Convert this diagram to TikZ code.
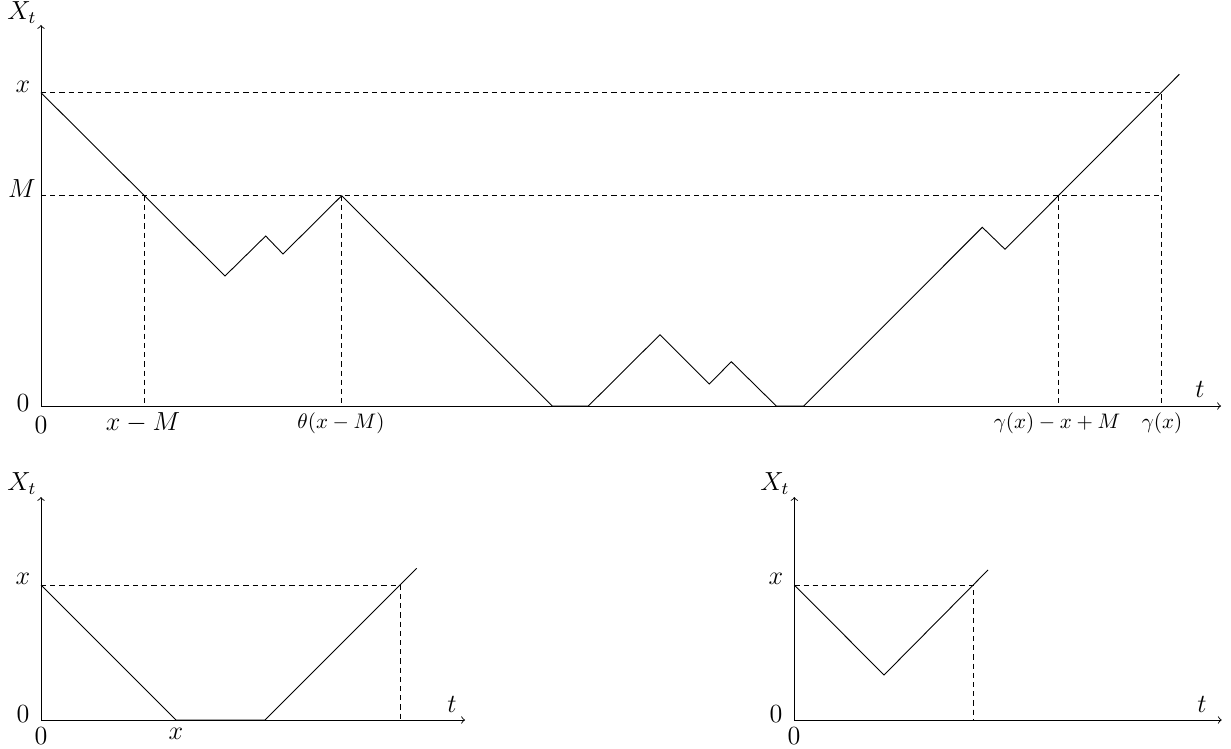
\documentclass[tikz,border=0pt]{standalone}
\usepackage{amsmath}
\usepackage{tikz}
\usetikzlibrary{positioning,calc}
\tikzset{
  >=to,
  % --- lines
  axis/.style  = {->, draw=black, line width=0.45pt},
  walk/.style  = {draw=black, line width=0.45pt, line join=miter},
  guide/.style = {draw=black, line width=0.45pt, dash pattern=on 2.6pt off 2pt},
  % --- labels
  lbl/.style   = {font=\large, scale=1.09, inner sep=0pt},
  tiny/.style  = {font=\normalsize, scale=1.05, inner sep=0pt},
}
\begin{document}
\begin{tikzpicture}[x=0.5pt,y=-0.5pt]
  \useasboundingbox (0,0) rectangle (1231,749);
  % --- top: the long path
  \coordinate (o1) at (41,406);
  \coordinate (x1) at (41,92.7);
  \coordinate (m1) at (41,195.7);
  \draw[axis] (o1) -- (1221,406);
  \draw[axis] (o1) -- (41,25);
  \draw[guide] (x1) -- (1161.7,92.7) -- (1161.7,406);
  \draw[guide] (m1) -- (1161.7,195.7);
  \foreach \t in {144.3,341.7,1058.7}
    \draw[guide] (\t,195.7) -- (\t,406);
  \draw[walk] (x1) -- (225,276) -- (265.7,236) -- (283,254) -- (341.7,195.7)
    -- (552.3,406) -- (588.3,406) -- (660,334.7) -- (709.3,384) -- (731.3,361.7)
    -- (776.3,406) -- (803.7,406) -- (982.3,227.3) -- (1005,249.3) -- (1179.3,74.3);
  \node[lbl] (xt1) at (22,13)  {$X_t$};
  \node[lbl] (lx1) at (23,87)  {$x$};
  \node[lbl] (lm1) at (22,189) {$M$};
  \node[lbl] (lz1) at (23,403) {$0$};
  \node[lbl] (t1)  at (1200,389) {$t$};
  \node[lbl] (b0)  at (41,425)  {$0$};
  \node[lbl] (bxm) at (143,423) {$x-M$};
  \node[tiny] (bth) at (341,423) {$\theta(x-M)$};
  \node[tiny] (bgm) at (1057,423) {$\gamma(x)-x+M$};
  \node[tiny] (bga) at (1162,423) {$\gamma(x)$};
  % --- bottom left
  \coordinate (o2) at (41,720);
  \coordinate (x2) at (41,585);
  \draw[axis] (o2) -- (465,720);
  \draw[axis] (o2) -- (41,497);
  \draw[guide] (x2) -- (400,585) -- (400,720);
  \draw[walk] (x2) -- (176,720) -- (265,720) -- (416.7,568.3);
  \node[lbl] (xt2) at (22,484) {$X_t$};
  \node[lbl] (lx2) at (23,579) {$x$};
  \node[lbl] (lz2) at (23,714) {$0$};
  \node[lbl] (t2)  at (452,704) {$t$};
  \node[lbl] (c0)  at (41,736) {$0$};
  \node[lbl] (cx)  at (176,734) {$x$};
  % --- bottom right
  \coordinate (o3) at (794.3,720);
  \coordinate (x3) at (794.3,585);
  \draw[axis] (o3) -- (1221.7,720);
  \draw[axis] (o3) -- (794.3,497);
  \draw[guide] (x3) -- (973.3,585) -- (973.3,720);
  \draw[walk] (x3) -- (884,675) -- (988,570);
  \node[lbl] (xt3) at (775,484) {$X_t$};
  \node[lbl] (lx3) at (776,579) {$x$};
  \node[lbl] (lz3) at (776,714) {$0$};
  \node[lbl] (t3)  at (1202,704) {$t$};
  \node[lbl] (d0)  at (794,736) {$0$};
\end{tikzpicture}
\end{document}
